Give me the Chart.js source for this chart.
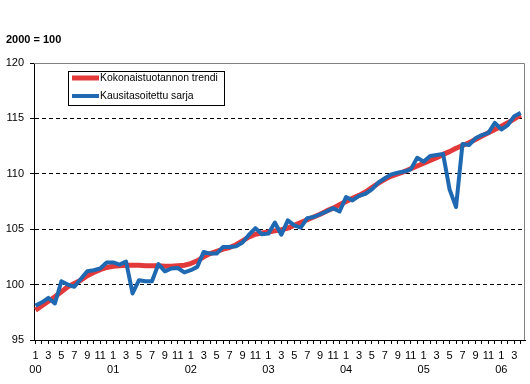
<!DOCTYPE html>
<html>
<head>
<meta charset="utf-8">
<script src="https://cdn.jsdelivr.net/npm/chart.js@4/dist/chart.umd.min.js"></script>
<style>
html,body{margin:0;padding:0;background:#fff;}
#wrap{position:relative;width:530px;height:384px;}
</style>
</head>
<body>
<div id="wrap"><canvas id="c" width="530" height="384"></canvas></div>
<script>
// Months Jan 2000 .. Apr 2006
const years = ['00','01','02','03','04','05','06'];
const months = [];
for (let y = 0; y < years.length; y++) {
  for (let m = 1; m <= 12; m++) {
    if (y === 6 && m > 4) break;
    months.push({m: m, y: years[y]});
  }
}
const trendLabel = 'Kokonaistuotannon trendi';
const seasLabel = 'Kausitasoitettu sarja';
const unitLabel = '2000 = 100';

const trend = [
  97.7, 98.1, 98.5, 98.9, 99.35, 99.8, 100.1, 100.4, 100.8, 101.1, 101.35, 101.55,
  101.65, 101.7, 101.75, 101.75, 101.75, 101.7, 101.7, 101.7, 101.65, 101.65, 101.7, 101.75,
  101.9, 102.15, 102.5, 102.8, 103.0, 103.2, 103.35, 103.6, 103.95, 104.3, 104.55, 104.65,
  104.75, 104.85, 104.95, 105.1, 105.35, 105.6, 105.85, 106.1, 106.35, 106.65, 106.9, 107.2,
  107.5, 107.8, 108.05, 108.35, 108.75, 109.15, 109.5, 109.8, 110.0, 110.2, 110.45, 110.7,
  110.95, 111.2, 111.45, 111.75, 112.0, 112.3, 112.55, 112.8, 113.1, 113.4, 113.7, 114.0,
  114.3, 114.6, 114.95, 115.3
];
const seasonal = [
  98.1, 98.4, 98.8, 98.3, 100.3, 100.0, 99.8, 100.5, 101.2, 101.3, 101.45, 102.0,
  102.0, 101.8, 102.07, 99.2, 100.4, 100.3, 100.3, 101.85, 101.2, 101.45, 101.5, 101.1,
  101.3, 101.6, 102.95, 102.8, 102.8, 103.4, 103.4, 103.45, 103.8, 104.5, 105.1, 104.55,
  104.6, 105.6, 104.5, 105.8, 105.35, 105.15, 106.0, 106.1, 106.35, 106.6, 106.9, 106.6,
  107.9, 107.6, 108.0, 108.2, 108.6, 109.2, 109.6, 109.95, 110.1, 110.2, 110.4, 111.45,
  111.1, 111.6, 111.7, 111.8, 108.6, 107.0, 112.7, 112.6, 113.2, 113.5, 113.7, 114.6,
  114.0, 114.4, 115.2, 115.5
];
const yTicks = [95, 100, 105, 110, 115, 120];

const FONT = "'Liberation Sans', Arial, sans-serif";
const RED = '#E2393B';
const BLUE = '#1F69B3';

const extras = {
  id: 'extras',
  afterDraw(chart) {
    const ctx = chart.ctx;
    const a = chart.chartArea;
    ctx.save();
    // top & right border
    ctx.strokeStyle = '#808080';
    ctx.lineWidth = 1;
    ctx.beginPath();
    ctx.moveTo(a.left, a.top + 0.5);
    ctx.lineTo(a.right - 0.5, a.top + 0.5);
    ctx.lineTo(a.right - 0.5, a.bottom);
    ctx.stroke();
    // unit title
    ctx.fillStyle = '#000';
    ctx.font = 'bold 11px ' + FONT;
    ctx.textBaseline = 'middle';
    ctx.textAlign = 'left';
    ctx.fillText(unitLabel, 6, 40);
    // legend
    const lx = 68, ly = 71, lw = 156, lh = 34;
    ctx.fillStyle = '#fff';
    ctx.fillRect(lx, ly, lw, lh);
    ctx.strokeStyle = '#000';
    ctx.strokeRect(lx + 0.5, ly + 0.5, lw, lh);
    const ds = chart.data.datasets;
    const rows = [{d: ds[0], y: ly + 7}, {d: ds[1], y: ly + 25}];
    ctx.font = '10.4px ' + FONT;
    rows.forEach(r => {
      ctx.strokeStyle = r.d.borderColor;
      ctx.lineWidth = r.d.borderWidth;
      ctx.beginPath();
      ctx.moveTo(lx + 4, r.y);
      ctx.lineTo(lx + 31, r.y);
      ctx.stroke();
      ctx.fillStyle = '#000';
      ctx.fillText(r.d.label, lx + 32, r.y);
    });
    ctx.restore();
  }
};

new Chart(document.getElementById('c'), {
  type: 'line',
  data: {
    datasets: [
      {label: trendLabel, data: trend.map((v, i) => ({x: i, y: v})), borderColor: RED, borderWidth: 5,
       pointRadius: 0, tension: 0, order: 2, borderJoinStyle: 'round'},
      {label: seasLabel, data: seasonal.map((v, i) => ({x: i, y: v})), borderColor: BLUE, borderWidth: 4,
       pointRadius: 0, tension: 0, order: 1, borderJoinStyle: 'round'}
    ]
  },
  options: {
    responsive: false,
    animation: false,
    devicePixelRatio: 1,
    layout: {padding: {top: 63, right: 5, left: 0, bottom: 0}},
    plugins: {legend: {display: false}, tooltip: {enabled: false}, title: {display: false}},
    scales: {
      x: {
        type: 'linear',
        min: -0.23,
        max: 75.66,
        afterBuildTicks(scale) { scale.ticks = months.map((_, i) => ({value: i})); },
        afterFit(scale) { scale.height = 44; },
        ticks: {
          autoSkip: false, maxRotation: 0, minRotation: 0,
          font: {family: FONT, size: 11, lineHeight: 1.3},
          color: '#000', padding: 5,
          callback(value) {
            const mo = months[value];
            if (!mo || mo.m % 2 === 0) return '';
            return [String(mo.m), mo.m === 1 ? mo.y : ''];
          }
        },
        grid: {drawOnChartArea: false, drawTicks: true, tickLength: 4, color: '#000', tickColor: '#000'},
        border: {display: true, color: '#000', width: 1}
      },
      y: {
        min: 95, max: 120,
        afterBuildTicks(scale) { scale.ticks = yTicks.map(v => ({value: v})); },
        afterFit(scale) { scale.width = 34; },
        ticks: {font: {family: FONT, size: 11}, color: '#000', padding: 6},
        grid: {
          drawTicks: true, tickLength: 4, tickColor: '#000',
          color: (c) => (c.tick && c.tick.value > 95 && c.tick.value < 120) ? '#000' : 'rgba(0,0,0,0)',
          lineWidth: 1
        },
        border: {display: true, color: '#000', width: 1, dash: [4, 3]}
      }
    }
  },
  plugins: [extras]
});
</script>
</body>
</html>
